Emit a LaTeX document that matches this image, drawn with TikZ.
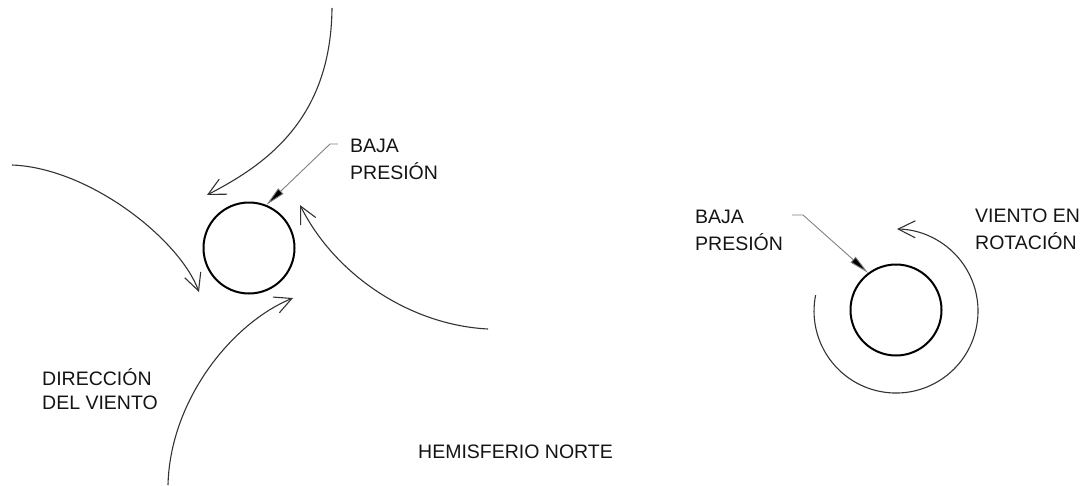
\documentclass[tikz,border=0pt]{standalone}
\usepackage{fontspec}
\setmainfont{Liberation Sans}
\usetikzlibrary{arrows.meta}
\definecolor{ink}{HTML}{141414}
\definecolor{wind}{HTML}{333333}
\definecolor{lead}{HTML}{808080}
\begin{document}
\begin{tikzpicture}[x=1pt,y=-1pt,
  lbl/.style={font=\fontsize{19.5}{27}\selectfont, text=ink, inner sep=0pt, anchor=base west},
  lowp/.style={circle, draw=black, line width=2pt, minimum size=91pt, inner sep=0pt},
  windarrow/.style={draw=wind, line width=1.1pt, -{Straight Barb[length=17pt,width=17pt]}},
  leader/.style={draw=lead, line width=0.9pt, -{Triangle[length=20pt,width=7.5pt,fill=black]}}]
\useasboundingbox (0,0) rectangle (1084,485);

% left low-pressure centre
\node[lowp] (lowL) at (249,248) {};
% right low-pressure centre
\node[lowp] (lowR) at (896,310) {};

% wind arrows converging
\coordinate (s1) at (332,8);   \coordinate (t1) at (207,195);
\coordinate (s2) at (12,165);  \coordinate (t2) at (199,292);
\coordinate (s3) at (168,485); \coordinate (t3) at (293,298);
\coordinate (s4) at (488,329); \coordinate (t4) at (300,205);
\draw[windarrow] (s1) .. controls (331,120) and (265,165) .. (t1);
\draw[windarrow] (s2) .. controls (90,168) and (180,240) .. (t2);
\draw[windarrow] (s3) .. controls (170,400) and (232,323) .. (t3);
\draw[windarrow] (s4) .. controls (410,325) and (335,275) .. (t4);

% rotation arc
\coordinate (rs) at (815.6,295.1);
\draw[windarrow] (rs) arc[start angle=191.2, end angle=-89.3, radius=82];

% labels
\node[lbl] (bajaL1) at (350,152) {BAJA};
\node[lbl] (bajaL2) at (350,179) {PRESIÓN};
\node[lbl] (bajaR1) at (695,223) {BAJA};
\node[lbl] (bajaR2) at (695,250) {PRESIÓN};
\node[lbl] (rot1) at (975,222) {VIENTO EN};
\node[lbl] (rot2) at (975,249) {ROTACIÓN};
\node[lbl] (dir1) at (42,385) {DIRECCIÓN};
\node[lbl] (dir2) at (42,409) {DEL VIENTO};
\node[lbl] (hemi) at (418,458) {HEMISFERIO NORTE};

% leaders
\coordinate (kL) at (330,144); \coordinate (eL) at (338,144);
\coordinate (kR) at (803,215); \coordinate (eR) at (792,215);
\draw[leader] (eL) -- (kL) -- (lowL.68);
\draw[leader] (eR) -- (kR) -- (lowR.127);
\end{tikzpicture}
\end{document}
